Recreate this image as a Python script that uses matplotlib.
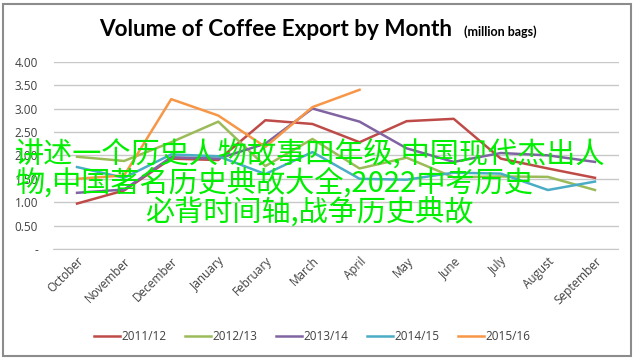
import numpy as np
import matplotlib.pyplot as plt
from matplotlib.patches import Rectangle

months = ['October', 'November', 'December', 'January', 'February', 'March',
          'April', 'May', 'June', 'July', 'August', 'September']
seasons = ['2011/12', '2012/13', '2013/14', '2014/15', '2015/16']
colors = ['#BE4B48', '#9BBB59', '#8064A2', '#4BACC6', '#F79646']

s2011 = [0.97, 1.25, 1.93, 1.90, 2.75, 2.67, 2.28, 2.73, 2.78, 1.93, 1.72, 1.52]
s2012 = [1.97, 1.88, 2.28, 2.72, 1.77, 2.35, 1.72, 1.95, 1.53, 1.55, 1.54, 1.26]
s2013 = [1.20, 1.27, 1.96, 1.93, 2.25, 3.00, 2.72, 2.15, 1.86, 2.05, 2.00, 1.86]
s2014 = [1.75, 1.52, 2.02, 1.98, 1.60, 2.07, 1.50, 1.48, 1.63, 1.61, 1.26, 1.44]
s2015 = [1.50, 1.57, 3.20, 2.85, 2.18, 3.03, 3.40]

yticks = [0, 0.5, 1.0, 1.5, 2.0, 2.5, 3.0, 3.5, 4.0]
ytick_labels = ['-', '0.50', '1.00', '1.50', '2.00', '2.50', '3.00', '3.50', '4.00']

overlay = ['讲述一个历史人物故事四年级,中国现代杰出人',
           '物,中国著名历史典故大全,2022中考历史',
           '必背时间轴,战争历史典故']

fig = plt.figure(figsize=(6.37, 3.6), dpi=100)
ax = fig.add_axes([53.5 / 637, 1 - 249 / 360, 565 / 637, 187.3 / 360])

x = np.arange(len(months))
for data, lab, c in zip([s2011, s2012, s2013, s2014, s2015], seasons, colors):
    ax.plot(x[:len(data)], data, color=c, lw=1.8, label=lab)

ax.set_xlim(-0.5, 11.5)
ax.set_ylim(0, 4)
ax.set_yticks(yticks)
ax.set_yticklabels(ytick_labels, fontsize=8.5, color='#404040', family='Open Sans')
ax.set_xticks(x)
ax.set_xticklabels(months, rotation=45, ha='right', rotation_mode='anchor',
                   fontsize=8.5, color='#404040', family='Open Sans')
ax.tick_params(length=0, pad=4)
ax.tick_params(axis='y', pad=11)
ax.grid(axis='y', color='#C8C8C8', lw=1)
ax.set_axisbelow(True)
for s in ['top', 'right', 'left']:
    ax.spines[s].set_visible(False)
ax.spines['bottom'].set_color('#C8C8C8')

leg = fig.legend(loc='center', bbox_to_anchor=(0.49, 1 - 337 / 360), ncol=5,
                 frameon=False, fontsize=8.5, handlelength=2.2, columnspacing=1.6,
                 handletextpad=0.1)
for t in leg.get_texts():
    t.set_color('#404040')
    t.set_family('Open Sans')

fig.text(99 / 637, 1 - 30 / 360, 'Volume of Coffee Export by Month', fontsize=16.2,
         fontweight='bold', family='Lato', va='center', ha='left', color='#000000')
fig.text(464 / 637, 1 - 32 / 360, '(million bags)', fontsize=9,
         fontweight='bold', family='Lato', va='center', ha='left', color='#000000')

fig.patches.append(Rectangle((3 / 637, 4 / 360), 628 / 637, 352 / 360,
                             transform=fig.transFigure, fill=False,
                             edgecolor='#8C8C8C', lw=1.5))

cjk = ['Noto Sans CJK SC', 'DejaVu Sans']
fig.text(15 / 637, 1 - 155 / 360, overlay[0], fontsize=21, color='#00EE00',
         family=cjk, fontweight='medium', va='center', ha='left', zorder=10)
fig.text(15 / 637, 1 - 183 / 360, overlay[1], fontsize=21, color='#00EE00',
         family=cjk, fontweight='medium', va='center', ha='left', zorder=10)
fig.text(145 / 637, 1 - 212 / 360, overlay[2], fontsize=21, color='#00EE00',
         family=cjk, fontweight='medium', va='center', ha='left', zorder=10)

fig.savefig('out.png', dpi=100)
